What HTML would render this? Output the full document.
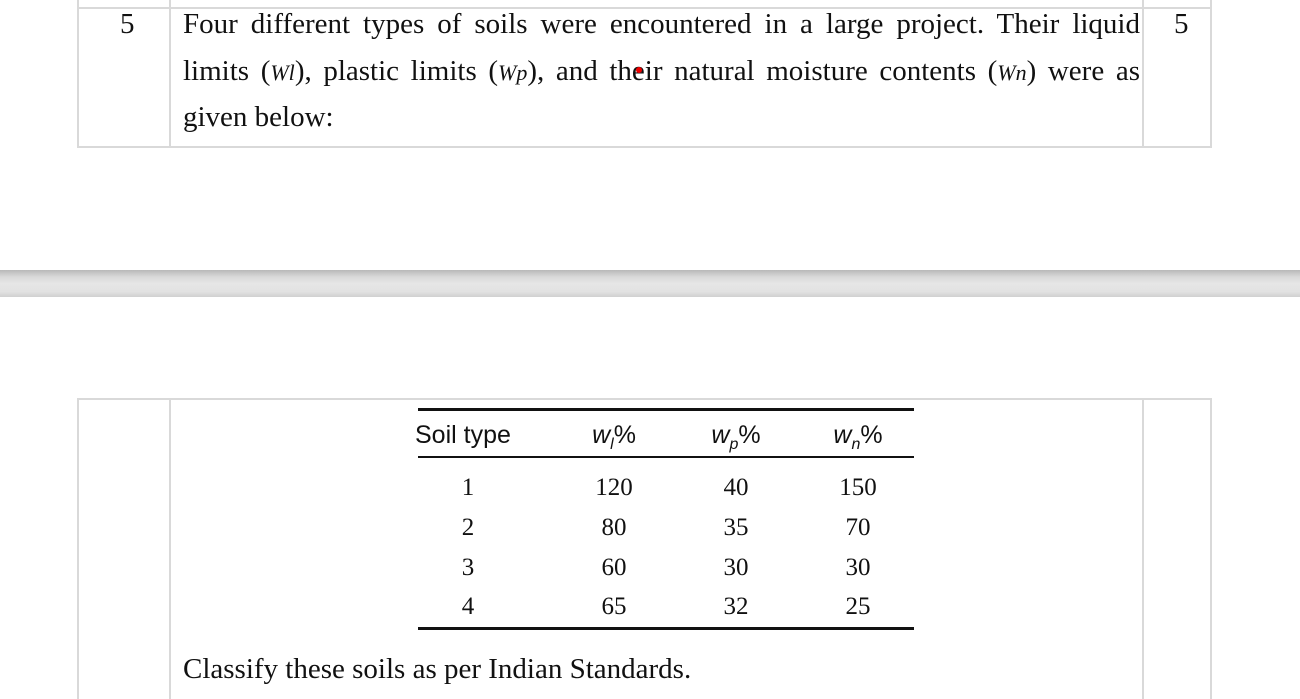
<!DOCTYPE html>
<html><head><style>
body{margin:0;width:1300px;height:699px;background:#fff;position:relative;overflow:hidden;font-family:"Liberation Serif",serif;color:#111}
.v{position:absolute;width:2px;background:#d9d9d9}
.h{position:absolute;height:2px;background:#d9d9d9}
.t{position:absolute;font-size:29px;white-space:nowrap}
.tb{position:absolute;height:3px;background:#111}
.c{position:absolute;width:120px;text-align:center;font-size:25px}
.s{font-family:"Liberation Sans",sans-serif;font-size:25px}
</style></head><body>
<div class="v" style="left:77px;top:0;height:148px"></div>
<div class="v" style="left:169px;top:0;height:148px"></div>
<div class="v" style="left:1142px;top:0;height:148px"></div>
<div class="v" style="left:1210px;top:0;height:148px"></div>
<div class="h" style="left:77px;top:7px;width:1135px"></div>
<div class="h" style="left:77px;top:146px;width:1135px"></div>
<div class="t" style="left:120px;top:8px">5</div>
<div class="t" style="left:1174px;top:8px">5</div>
<div class="t" style="left:183px;top:8px;width:957px;text-align:justify;text-align-last:justify;white-space:normal">Four different types of soils were encountered in a large project. Their liquid</div>
<div class="t" style="left:183px;top:55px;width:957px;text-align:justify;text-align-last:justify;white-space:normal">limits (<i style="font-size:22px">Wl</i>), plastic limits (<i style="font-size:22px">Wp</i>), and their natural moisture contents (<i style="font-size:22px">Wn</i>) were as</div>
<div style="position:absolute;left:636px;top:67px;width:6px;height:6px;border-radius:3px;background:#e00"></div>
<div class="t" style="left:183px;top:101px">given below:</div>
<div style="position:absolute;left:0;top:270px;width:1300px;height:27px;background:linear-gradient(#b8b8b8,#d8d8d8 25%,#e6e6e6 50%,#e2e2e2 80%,#d0d0d0)"></div>
<div class="v" style="left:77px;top:398px;height:301px"></div>
<div class="v" style="left:169px;top:398px;height:301px"></div>
<div class="v" style="left:1142px;top:398px;height:301px"></div>
<div class="v" style="left:1210px;top:398px;height:301px"></div>
<div class="h" style="left:77px;top:398px;width:1135px"></div>
<div class="tb" style="left:418px;top:408px;width:496px"></div>
<div class="tb" style="left:418px;top:456px;width:496px;height:2px"></div>
<div class="tb" style="left:418px;top:627px;width:496px"></div>
<div class="s" style="position:absolute;left:415px;top:421px">Soil type</div>
<div class="c s" style="left:554px;top:421px"><i>w<sub style="font-size:16px">l</sub></i>%</div>
<div class="c s" style="left:676px;top:421px"><i>w<sub style="font-size:16px">p</sub></i>%</div>
<div class="c s" style="left:798px;top:421px"><i>w<sub style="font-size:16px">n</sub></i>%</div>
<div class="c" style="left:408px;top:474px">1</div><div class="c" style="left:554px;top:474px">120</div><div class="c" style="left:676px;top:474px">40</div><div class="c" style="left:798px;top:474px">150</div>
<div class="c" style="left:408px;top:514px">2</div><div class="c" style="left:554px;top:514px">80</div><div class="c" style="left:676px;top:514px">35</div><div class="c" style="left:798px;top:514px">70</div>
<div class="c" style="left:408px;top:554px">3</div><div class="c" style="left:554px;top:554px">60</div><div class="c" style="left:676px;top:554px">30</div><div class="c" style="left:798px;top:554px">30</div>
<div class="c" style="left:408px;top:593px">4</div><div class="c" style="left:554px;top:593px">65</div><div class="c" style="left:676px;top:593px">32</div><div class="c" style="left:798px;top:593px">25</div>
<div class="t" style="left:183px;top:653px">Classify these soils as per Indian Standards.</div>
</body></html>
